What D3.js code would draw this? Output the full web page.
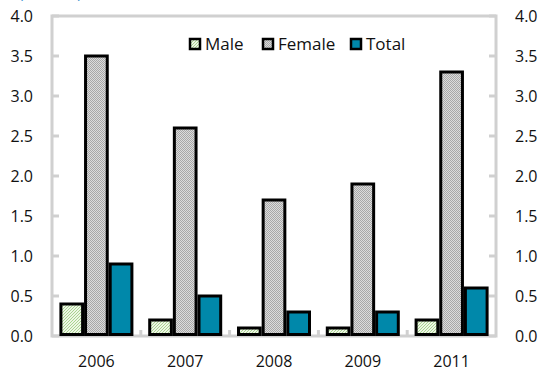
<!DOCTYPE html>
<html><head><meta charset="utf-8">
<script src="https://cdn.jsdelivr.net/npm/d3@7"></script>
<style>body{margin:0;background:#fff}svg{display:block}text{font-family:"Open Sans",sans-serif;fill:#111}</style>
</head><body><svg id="c" width="542" height="372"></svg>
<script>
const categories = ["2006","2007","2008","2009","2011"];
const seriesNames = ["Male","Female","Total"];
const male = [0.4,0.2,0.1,0.1,0.2];
const female = [3.5,2.6,1.7,1.9,3.3];
const total = [0.9,0.5,0.3,0.3,0.6];
const yTicks = [0,0.5,1,1.5,2,2.5,3,3.5,4];

const svg = d3.select("#c");
const L=52, R=496, T=16, B=336;
const defs = svg.append("defs");
const pm = defs.append("pattern").attr("id","pm").attr("patternUnits","userSpaceOnUse").attr("width",3).attr("height",3);
pm.append("rect").attr("width",3).attr("height",3).attr("fill","#eef6e6");
pm.append("path").attr("d","M-1,1 L1,-1 M0,3 L3,0 M2,4 L4,2").attr("stroke","#a8d490").attr("stroke-width",1);
const pf = defs.append("pattern").attr("id","pf").attr("patternUnits","userSpaceOnUse").attr("width",2).attr("height",2);
pf.append("rect").attr("width",2).attr("height",2).attr("fill","#dcdcdc");
pf.append("rect").attr("width",1).attr("height",1).attr("fill","#a8a8a8");
pf.append("rect").attr("x",1).attr("y",1).attr("width",1).attr("height",1).attr("fill","#a8a8a8");
const fills = ["url(#pm)","url(#pf)","#0088aa"];

const x = d3.scaleBand().domain(categories).range([L,R]);
const x1 = d3.scaleBand().domain(seriesNames).range([0,71]).paddingInner(0.12);
const y = d3.scaleLinear().domain([0,4]).range([B,T]);

// title fragment (cut off at top, as in the reference)
svg.append("text").attr("x",19).attr("y",-2).style("font-size","15px").style("fill","#3a8fd0").text("(Percent)");

// frame
const frame = svg.append("g").attr("stroke","#d0d0d0").attr("stroke-width",3).attr("fill","none");
frame.append("rect").attr("x",L).attr("y",T).attr("width",R-L).attr("height",B-T);
yTicks.forEach(t=>{
  frame.append("line").attr("x1",L).attr("x2",L+7).attr("y1",y(t)).attr("y2",y(t));
  frame.append("line").attr("x1",R-7).attr("x2",R).attr("y1",y(t)).attr("y2",y(t));
});
categories.slice(1).forEach(c=>{
  frame.append("line").attr("x1",x(c)).attr("x2",x(c)).attr("y1",B).attr("y2",B-6);
});

// axes labels
const fmt = d3.format(".1f");
const gl = svg.append("g").attr("transform",`translate(${L-19},0)`).call(d3.axisLeft(y).tickValues(yTicks).tickFormat(fmt).tickSize(0).tickPadding(0));
const gr = svg.append("g").attr("transform",`translate(${R+19},0)`).call(d3.axisRight(y).tickValues(yTicks).tickFormat(fmt).tickSize(0).tickPadding(0));
const gx = svg.append("g").attr("transform",`translate(0,${B+20})`).call(d3.axisBottom(x).tickSize(0).tickPadding(0));
[gl,gr,gx].forEach(g=>{g.select(".domain").remove();g.selectAll("text").style("font-size","16px").style("font-family","'Open Sans',sans-serif").attr("fill","#111");});

// bars
const data = [male,female,total];
data.forEach((vals,si)=>{
  svg.append("g").selectAll("rect").data(vals).join("rect")
    .attr("x",(d,i)=>x(categories[i])+x.bandwidth()/2-35.5+x1(seriesNames[si]))
    .attr("width",x1.bandwidth())
    .attr("y",d=>y(d)).attr("height",d=>B-1.5-y(d))
    .attr("fill",fills[si]).attr("stroke","#000").attr("stroke-width",3);
});

// legend
const lg = svg.append("g").attr("transform","translate(190,44)");
const lx = [0,73,161];
seriesNames.forEach((s,i)=>{
  lg.append("rect").attr("x",lx[i]).attr("y",-5).attr("width",10).attr("height",10).attr("fill",fills[i]).attr("stroke","#000").attr("stroke-width",2.5);
  lg.append("text").attr("x",lx[i]+15).attr("y",6).style("font-size","17px").text(s);
});
</script></body></html>
